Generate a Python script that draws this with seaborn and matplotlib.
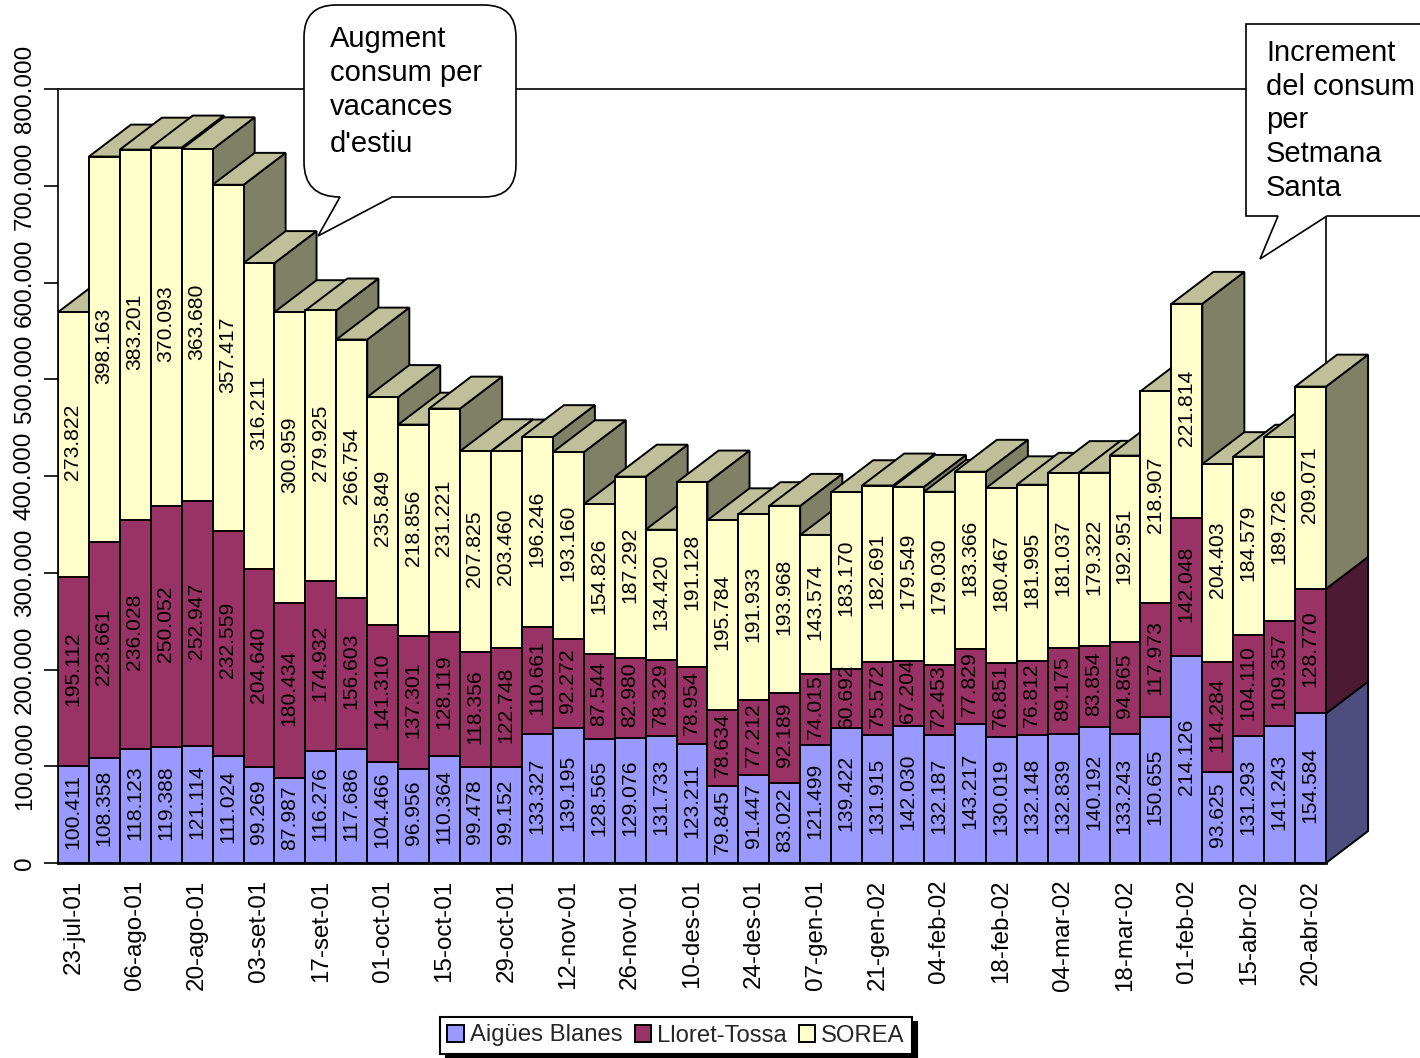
import matplotlib
matplotlib.use("Agg")
import matplotlib.pyplot as plt
import numpy as np
import pandas as pd
import seaborn as sns
from matplotlib.patches import Patch, PathPatch, Polygon
from matplotlib.path import Path

tick_dates = [
    "23-jul-01", "06-ago-01", "20-ago-01", "03-set-01", "17-set-01", "01-oct-01", "15-oct-01",
    "29-oct-01", "12-nov-01", "26-nov-01", "10-des-01", "24-des-01", "07-gen-01", "21-gen-02",
    "04-feb-02", "18-feb-02", "04-mar-02", "18-mar-02", "01-feb-02", "15-abr-02", "20-abr-02",
]
aigues = [
    100411, 108358, 118123, 119388, 121114, 111024, 99269, 87987, 116276, 117686, 104466,
    96956, 110364, 99478, 99152, 133327, 139195, 128565, 129076, 131733, 123211, 79845,
    91447, 83022, 121499, 139422, 131915, 142030, 132187, 143217, 130019, 132148, 132839,
    140192, 133243, 150655, 214126, 93625, 131293, 141243, 154584,
]
lloret = [
    195112, 223661, 236028, 250052, 252947, 232559, 204640, 180434, 174932, 156603, 141310,
    137301, 128119, 118356, 122748, 110661, 92272, 87544, 82980, 78329, 78954, 78634,
    77212, 92189, 74015, 60692, 75572, 67204, 72453, 77829, 76851, 76812, 89175,
    83854, 94865, 117973, 142048, 114284, 104110, 109357, 128770,
]
sorea = [
    273822, 398163, 383201, 370093, 363680, 357417, 316211, 300959, 279925, 266754, 235849,
    218856, 231221, 207825, 203460, 196246, 193160, 154826, 187292, 134420, 191128, 195784,
    191933, 193968, 143574, 183170, 182691, 179549, 179030, 183366, 180467, 181995, 181037,
    179322, 192951, 218907, 221814, 204403, 184579, 189726, 209071,
]
series_names = ["Aigües Blanes", "Lloret-Tossa", "SOREA"]
front_colors = ["#9999FF", "#993366", "#FFFFCC"]
side_colors = ["#4D4D80", "#4D1A33", "#808066"]
top_color = "#BFBF99"

W, H = 1420, 1058
LW = 1.4
DEPTH_X = 1.36
DEPTH_Y = 33000


def px(x, y):
    return x / W, 1 - y / H


sns.set_theme(style="white")
plt.rcParams["font.family"] = ["Liberation Sans", "DejaVu Sans"]

df = pd.DataFrame({"bar": np.arange(len(aigues)), "aigues": aigues, "lloret": lloret, "sorea": sorea})
df["h1"] = df["aigues"]
df["h2"] = df["h1"] + df["lloret"]
df["h3"] = df["h2"] + df["sorea"]

fig = plt.figure(figsize=(W / 100, H / 100), dpi=100)
ax = fig.add_axes([58 / W, (H - 863) / H, 1268 / W, 774 / H])

# back to front, so each shorter bar covers the taller one behind it
for col, color in zip(["h3", "h2", "h1"], front_colors[::-1]):
    n_before = len(ax.patches)
    sns.barplot(data=df, x="bar", y=col, color=color, saturation=1, width=1, errorbar=None,
                edgecolor="black", linewidth=LW, ax=ax)
    for i, patch in enumerate(ax.patches[n_before:]):
        patch.set_zorder(3 + i + 0.5)

# fake 3D: paint left to right, the next bar hides the side of this one
for i, row in df.iterrows():
    x0, x1 = i - 0.5, i + 0.5
    bottoms = [0, row["h1"], row["h2"]]
    tops = [row["h1"], row["h2"], row["h3"]]
    for b, t, color in zip(bottoms, tops, side_colors):
        ax.add_patch(Polygon([(x1, b), (x1 + DEPTH_X, b + DEPTH_Y), (x1 + DEPTH_X, t + DEPTH_Y), (x1, t)],
                             facecolor=color, edgecolor="black", linewidth=LW, clip_on=False, zorder=3 + i))
    t = row["h3"]
    ax.add_patch(Polygon([(x0, t), (x1, t), (x1 + DEPTH_X, t + DEPTH_Y), (x0 + DEPTH_X, t + DEPTH_Y)],
                         facecolor=top_color, edgecolor="black", linewidth=LW, clip_on=False, zorder=3 + i))
    for b, h in zip(bottoms, [row["aigues"], row["lloret"], row["sorea"]]):
        ax.text(i - 0.02, b + h / 2 + 3000, f"{int(h):,}".replace(",", "."), rotation=90, ha="center", va="center",
                fontsize=15.2, color="black", zorder=100)

ax.set_xlim(-0.5, len(aigues) - 0.5)
ax.set_ylim(0, 800000)
ax.set_xlabel("")
ax.set_ylabel("")
ax.set_xticks(np.arange(0, len(aigues), 2))
ax.set_xticklabels(tick_dates, rotation=90, fontsize=17.4, color="black")
y_ticks = np.arange(0, 800001, 100000)
ax.set_yticks(y_ticks)
ax.set_yticklabels([f"{v:,}".replace(",", ".") for v in y_ticks], rotation=90, va="center", fontsize=17.5, color="black")
ax.tick_params(axis="x", length=0, pad=12)
ax.tick_params(axis="y", left=True, length=10, width=1.2, color="black", pad=6)
for spine in ax.spines.values():
    spine.set_visible(True)
    spine.set_color("black")
    spine.set_linewidth(1.2)
    spine.set_zorder(2)
ax.spines["bottom"].set_linewidth(2)

handles = [Patch(facecolor=c, edgecolor="black", linewidth=LW) for c in front_colors]
leg = fig.legend(handles, series_names, loc="center", bbox_to_anchor=px(676, 1035.5), ncol=3, fontsize=17.2,
                 frameon=True, fancybox=False, framealpha=1, edgecolor="black", borderpad=0.3,
                 handlelength=0.68, handleheight=0.72, handletextpad=0.25, columnspacing=0.52,
                 borderaxespad=0, shadow={"color": "black", "alpha": 1, "ox": 4, "oy": -3})
leg.get_frame().set_linewidth(1.5)

# callouts are placed in picture pixels
codes1 = [Path.MOVETO, Path.CURVE3, Path.CURVE3, Path.LINETO, Path.CURVE3, Path.CURVE3, Path.LINETO,
          Path.CURVE3, Path.CURVE3, Path.LINETO, Path.CURVE3, Path.CURVE3, Path.LINETO, Path.LINETO, Path.CLOSEPOLY]
verts1 = [(340, 197), (304, 197), (304, 162), (304, 37), (304, 5), (336, 5), (484, 5), (516, 5), (516, 37),
          (516, 165), (516, 197), (484, 197), (392, 197), (318, 236), (340, 197)]
fig.add_artist(PathPatch(Path([px(*v) for v in verts1], codes1), facecolor="white", edgecolor="black",
                         linewidth=1.2, transform=fig.transFigure))
verts2 = [(1246, 24), (1430, 24), (1430, 216), (1327, 216), (1260, 259), (1278, 216), (1246, 216)]
fig.add_artist(Polygon([px(*v) for v in verts2], closed=True, facecolor="white", edgecolor="black",
                       linewidth=1.2, transform=fig.transFigure))

for y, line in zip([39, 73, 107, 144], ["Augment", "consum per", "vacances", "d'estiu"]):
    fig.text(*px(330, y), line, fontsize=21, ha="left", va="center", color="black")
for y, line in zip([53, 87, 120, 154, 188], ["Increment", "del consum", "per", "Setmana", "Santa"]):
    fig.text(*px(1266, y), line, fontsize=21, ha="left", va="center", color="black")

fig.savefig("out.png", dpi=100)
